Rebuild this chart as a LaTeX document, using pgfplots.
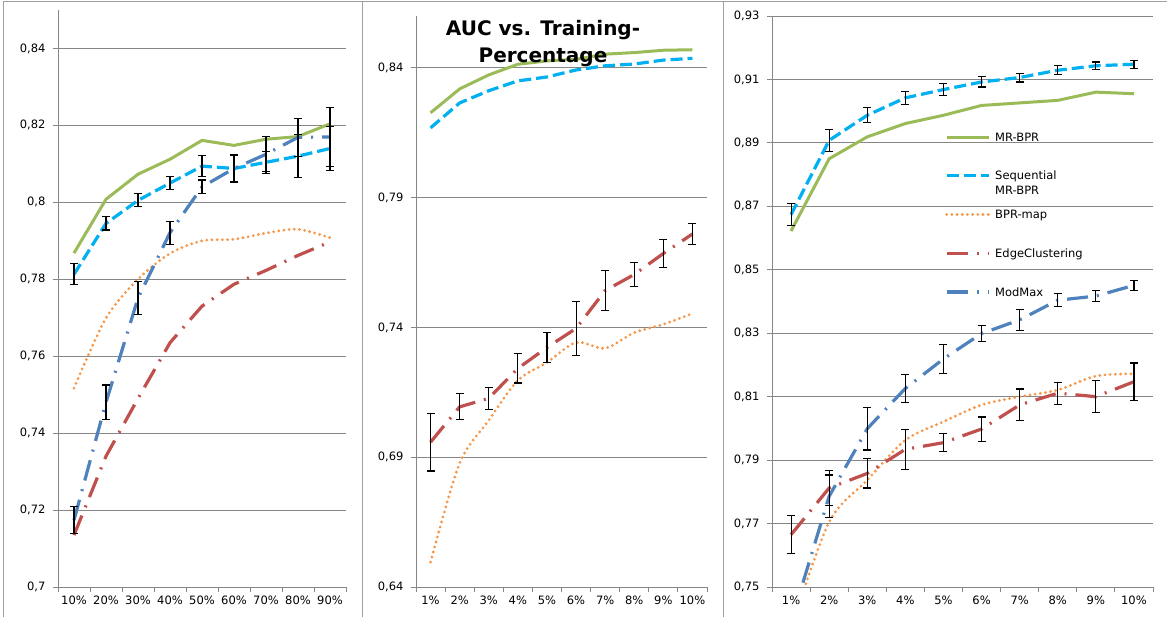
\documentclass[border=0pt]{standalone}
\usepackage{pgfplots}
\pgfplotsset{compat=1.18}
\usepackage{pgfplotstable}
\usepackage{fontspec}
\setmainfont{DejaVu Sans}
\definecolor{cgreen}{RGB}{155,187,89}
\definecolor{cseq}{RGB}{0,176,240}
\definecolor{corange}{RGB}{247,150,70}
\definecolor{cred}{RGB}{192,80,77}
\definecolor{cmod}{RGB}{79,129,189}
\definecolor{axgray}{RGB}{134,134,134}
\definecolor{bordergray}{RGB}{160,160,160}
\newcommand\tickfont{\fontsize{11.5}{15}\selectfont}

% ---------- data ----------
\pgfplotstableread{
x y
1 0.7868
2 0.8008
3 0.8073
4 0.8112
5 0.8161
6 0.8148
7 0.8164
8 0.8171
9 0.8204
}\LMR
\pgfplotstableread{
x y e
1 0.7813 0.0027
2 0.7945 0.0017
3 0.8005 0.0017
4 0.8050 0.0017
5 0.8094 0.0027
6 0.8088 0.0035
7 0.8104 0.0028
8 0.8120 0.0056
9 0.8140 0.0057
}\LSEQ
\pgfplotstableread{
x y
1 0.7517
2 0.7699
3 0.7800
4 0.7867
5 0.7900
6 0.7904
7 0.7920
8 0.7930
9 0.7908
}\LBPR
\pgfplotstableread{
x y
1 0.7135
2 0.7340
3 0.7490
4 0.7635
5 0.7730
6 0.7787
7 0.7823
8 0.7862
9 0.7897
}\LEDGE
\pgfplotstableread{
x y e
1 0.7174 0.0036
2 0.7480 0.0045
3 0.7751 0.0043
4 0.7921 0.0030
5 0.8040 0.0018
6 0.8088 0.0037
7 0.8125 0.0045
8 0.8169 0.0049
9 0.8170 0.0077
}\LMOD

\pgfplotstableread{
x y
1 0.8227
2 0.8319
3 0.8373
4 0.8414
5 0.8427
6 0.8433
7 0.8453
8 0.8459
9 0.8468
10 0.8470
}\MMR
\pgfplotstableread{
x y
1 0.8169
2 0.8265
3 0.8312
4 0.8350
5 0.8365
6 0.8392
7 0.8408
8 0.8415
9 0.8430
10 0.8437
}\MSEQ
\pgfplotstableread{
x y
1 0.6496
2 0.6877
3 0.7042
4 0.7196
5 0.7265
6 0.7342
7 0.7320
8 0.7380
9 0.7412
10 0.7454
}\MBPR
\pgfplotstableread{
x y e
1 0.6958 0.0111
2 0.7094 0.0050
3 0.7127 0.0042
4 0.7242 0.0056
5 0.7323 0.0058
6 0.7396 0.0103
7 0.7542 0.0077
8 0.7604 0.0046
9 0.7685 0.0054
10 0.7760 0.0042
}\MEDGE

\pgfplotstableread{
x y
1 0.8622
2 0.8850
3 0.8919
4 0.8961
5 0.8987
6 0.9018
7 0.9026
8 0.9034
9 0.9060
10 0.9055
}\RMR
\pgfplotstableread{
x y e
1 0.8674 0.0034
2 0.8908 0.0035
3 0.8987 0.0024
4 0.9042 0.0020
5 0.9068 0.0018
6 0.9092 0.0016
7 0.9106 0.0014
8 0.9129 0.0014
9 0.9143 0.0012
10 0.9148 0.0013
}\RSEQ
\pgfplotstableread{
x y
1 0.7370
2 0.7705
3 0.7837
4 0.7963
5 0.8021
6 0.8074
7 0.8100
8 0.8121
9 0.8165
10 0.8172
}\RBPR
\pgfplotstableread{
x y e
1 0.7665 0.0060
2 0.7812 0.0056
3 0.7858 0.0046
4 0.7934 0.0063
5 0.7955 0.0028
6 0.7998 0.0038
7 0.8074 0.0050
8 0.8111 0.0035
9 0.8100 0.0050
10 0.8147 0.0059
}\REDGE
\pgfplotstableread{
x y e
1 0.7390 0.0000
2 0.7786 0.0067
3 0.7999 0.0067
4 0.8126 0.0045
5 0.8219 0.0045
6 0.8299 0.0025
7 0.8342 0.0034
8 0.8404 0.0020
9 0.8417 0.0017
10 0.8451 0.0015
}\RMOD

\pgfplotsset{
  panel/.style={
    scale only axis, anchor=south west,
    xmin=0.5,
    axis lines*=left,
    axis line style={-, draw=axgray, line width=0.9pt},
    ymajorgrids, grid style={draw=axgray, line width=0.9pt},
    tick align=outside, tick pos=left,
    major tick length=5pt,
    tick style={draw=axgray, line width=0.9pt},
    xticklabel={\mbox{}},
    extra x tick style={major tick length=0pt, tick style={draw=none},
      xticklabel style={yshift=-5pt}},
    ticklabel style={font=\tickfont, text=black},
    yticklabel style={xshift=-4pt},
    /pgf/number format/use comma,
    /pgf/number format/assume math mode=true,
  },
  mrbpr/.style={draw=cgreen, line width=3pt, line join=round},
  seq/.style={draw=cseq, line width=3.2pt, dash pattern=on 12pt off 5pt},
  bpr/.style={draw=corange, line width=3.1pt, dash pattern=on 0pt off 5.2pt, line cap=round, smooth, tension=0.5},
  edge/.style={draw=cred, line width=3.2pt, dash pattern=on 21pt off 9pt on 2pt off 9pt},
  modmax/.style={draw=cmod, line width=3.2pt, dash pattern=on 21pt off 9pt on 2pt off 9pt},
  errs/.style={forget plot, draw=none, mark=none, line width=1.1pt,
    error bars/.cd, y dir=both, y explicit, error mark=|,
    error bar style={solid, draw=black, line width=1.1pt},
    error mark options={solid, draw=black, line width=1.1pt, mark size=4pt}},
}

\begin{document}
\begin{tikzpicture}[x=1pt,y=1pt]
\useasboundingbox (0,0) rectangle (1167,617);

% ---- left panel ----
\begin{axis}[panel,
  at={(58pt,30pt)}, width=288pt, height=577pt,
  xmax=9.5, ymin=0.70, ymax=0.85,
  ytick={0.70,0.72,...,0.841},
  xtick={0.5,1.5,...,9.5},
  extra x ticks={1,...,9},
  extra x tick labels={10\%,20\%,30\%,40\%,50\%,60\%,70\%,80\%,90\%},
]
\addplot[mrbpr] table[x=x,y=y]{\LMR};
\addplot[seq] table[x=x,y=y]{\LSEQ};
\addplot[errs] table[x=x,y=y,y error=e]{\LSEQ};
\addplot[bpr] table[x=x,y=y]{\LBPR};
\addplot[edge] table[x=x,y=y]{\LEDGE};
\addplot[modmax] table[x=x,y=y]{\LMOD};
\addplot[errs] table[x=x,y=y,y error=e]{\LMOD};
\end{axis}

% ---- middle panel ----
\begin{axis}[panel,
  at={(416pt,30pt)}, width=291pt, height=571pt,
  xmax=10.5, ymin=0.64, ymax=0.86,
  ytick={0.64,0.69,0.74,0.79,0.84},
  xtick={0.5,1.5,...,10.5},
  extra x ticks={1,...,10},
  extra x tick labels={1\%,2\%,3\%,4\%,5\%,6\%,7\%,8\%,9\%,10\%},
]
\addplot[mrbpr] table[x=x,y=y]{\MMR};
\addplot[seq] table[x=x,y=y]{\MSEQ};
\addplot[bpr] table[x=x,y=y]{\MBPR};
\addplot[edge] table[x=x,y=y]{\MEDGE};
\addplot[errs] table[x=x,y=y,y error=e]{\MEDGE};
\end{axis}

% ---- right panel ----
\begin{axis}[panel,
  at={(772pt,30pt)}, width=381pt, height=571pt,
  xmax=10.5, ymin=0.75, ymax=0.93,
  ytick={0.75,0.77,...,0.931},
  xtick={0.5,1.5,...,10.5},
  extra x ticks={1,...,10},
  extra x tick labels={1\%,2\%,3\%,4\%,5\%,6\%,7\%,8\%,9\%,10\%},
  legend style={draw=none, fill=none, at={(0.4541,0.7968)}, anchor=north west,
    inner sep=0pt, outer sep=0pt, row sep=26.75pt, column sep=5pt,
    font=\tickfont,
    nodes={inner sep=0pt, outer sep=0pt, text height=9pt, text depth=3pt, anchor=base west}},
  legend cell align=left,
  legend image code/.code={\draw[#1] (0pt,4pt) -- (42pt,4pt);},
]
\addplot[mrbpr] table[x=x,y=y]{\RMR};
\addlegendentry{MR-BPR}
\addplot[seq] table[x=x,y=y]{\RSEQ};
\addlegendentry{\begin{tabular}[t]{@{}l@{}}Sequential\\MR-BPR\end{tabular}}
\addplot[errs] table[x=x,y=y,y error=e]{\RSEQ};
\addplot[bpr] table[x=x,y=y]{\RBPR};
\addlegendentry{BPR-map}
\addplot[edge] table[x=x,y=y]{\REDGE};
\addlegendentry{EdgeClustering}
\addplot[errs] table[x=x,y=y,y error=e]{\REDGE};
\addplot[modmax] table[x=x,y=y]{\RMOD};
\addlegendentry{ModMax}
\addplot[errs] table[x=x,y=y,y error=e]{\RMOD};
\end{axis}

% ---- title ----
\node[anchor=base, font=\fontsize{20}{24}\selectfont\bfseries] at (543,581) {AUC vs. Training-};
\node[anchor=base, font=\fontsize{20}{24}\selectfont\bfseries] at (543,554) {Percentage};

% ---- chart borders ----
\draw[bordergray, line width=1pt] (3,0) -- (3,615) -- (1167,615);
\draw[bordergray, line width=1pt] (362,0) -- (362,615);
\draw[bordergray, line width=1pt] (723,0) -- (723,615);
\end{tikzpicture}
\end{document}
